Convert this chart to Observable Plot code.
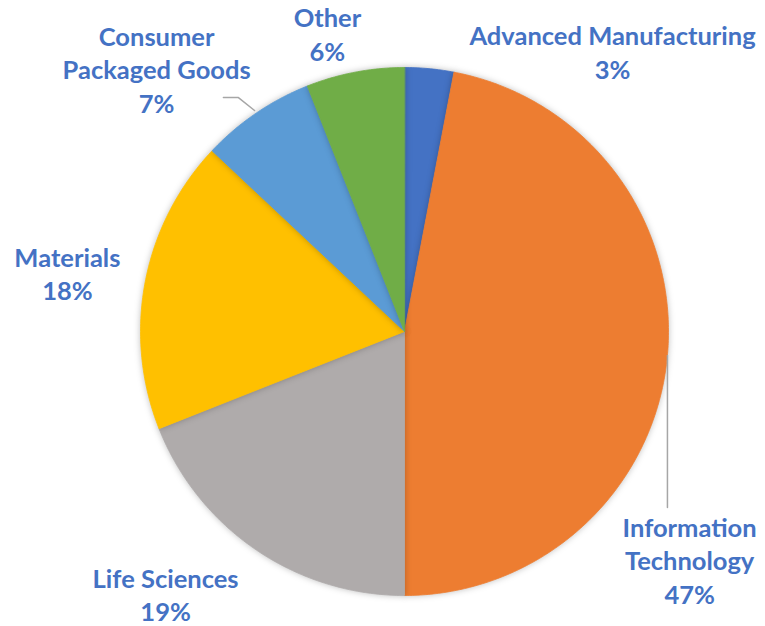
<!DOCTYPE html>
<html>
<head>
<meta charset="utf-8">
<script src="https://cdn.jsdelivr.net/npm/d3@7"></script>
<script src="https://cdn.jsdelivr.net/npm/@observablehq/plot@0.6"></script>
<style>
  html, body { margin: 0; padding: 0; background: #fff; }
  #chart svg { display: block; }
  .slices { filter: drop-shadow(0 0 3px rgba(0,0,0,0.25)); }
</style>
</head>
<body>
<div id="chart"></div>
<script>
// ---- data ----
const categories = ["Advanced Manufacturing", "Information Technology", "Life Sciences", "Materials", "Consumer Packaged Goods", "Other"];
const labelTexts = ["Advanced Manufacturing", "Information\nTechnology", "Life Sciences", "Materials", "Consumer\nPackaged Goods", "Other"];
const shares = [3, 47, 19, 18, 7, 6];
const colors = ["#4472C4", "#ED7D31", "#AFABAB", "#FFC000", "#5B9BD5", "#70AD47"];

// ---- layout (unit = pie radius, origin = pie centre) ----
const labelLayout = [
  [0.788, 1.062], [1.080, -0.864], [-0.905, -0.993],
  [-1.277, 0.222], [-0.939, 0.996], [-0.292, 1.131]
];
const leaderIT = [[0.996, -0.091], [0.996, -0.667]];
const leaderCPG = [[-0.686, 0.886], [-0.629, 0.886], [-0.568, 0.837]];

const W = 765, H = 626, R = 264, CX = 404, CY = 331;

const rows = categories.map((c, i) => ({name: c, label: labelTexts[i], share: shares[i], color: colors[i]}));
const arcs = d3.pie().sort(null).value(d => d.share)(rows);

function slicePoly(a) {
  const pts = [{x: 0, y: 0}];
  const n = Math.max(4, Math.ceil((a.endAngle - a.startAngle) / 0.01));
  for (let k = 0; k <= n; k++) {
    const t = a.startAngle + (a.endAngle - a.startAngle) * k / n;
    pts.push({x: Math.sin(t), y: Math.cos(t)});
  }
  return pts;
}

const labels = rows.map((d, i) => ({
  x: labelLayout[i][0], y: labelLayout[i][1],
  text: d.label + "\n" + d.share + "%"
}));

const toPts = arr => arr.map(([x, y]) => ({x, y}));

const sliceMarks = arcs.map(a => Plot.line(slicePoly(a), {
  x: "x", y: "y", curve: "linear-closed",
  fill: a.data.color, stroke: a.data.color, strokeWidth: 0.8
}));

const chart = Plot.plot({
  width: W, height: H,
  marginTop: 0, marginRight: 0, marginBottom: 0, marginLeft: 0,
  x: {domain: [-CX / R, (W - CX) / R], range: [0, W], axis: null},
  y: {domain: [-(H - CY) / R, CY / R], range: [H, 0], axis: null},
  marks: [
    ...sliceMarks,
    Plot.line(toPts(leaderIT), {x: "x", y: "y", stroke: "#A6A6A6", strokeWidth: 1.5}),
    Plot.line(toPts(leaderCPG), {x: "x", y: "y", stroke: "#A6A6A6", strokeWidth: 1.5}),
    Plot.text(labels, {
      x: "x", y: "y", text: "text",
      fill: "#4472C4", fontSize: 25.5, fontWeight: 700,
      fontFamily: "Lato, 'Open Sans', sans-serif",
      lineHeight: 1.32, textAnchor: "middle", lineAnchor: "middle"
    })
  ]
});

const svg = d3.select(chart);
svg.selectAll("g[aria-label='line']").filter((d, i) => i < arcs.length).attr("class", "slices");
document.getElementById("chart").appendChild(chart);
</script>
</body>
</html>
